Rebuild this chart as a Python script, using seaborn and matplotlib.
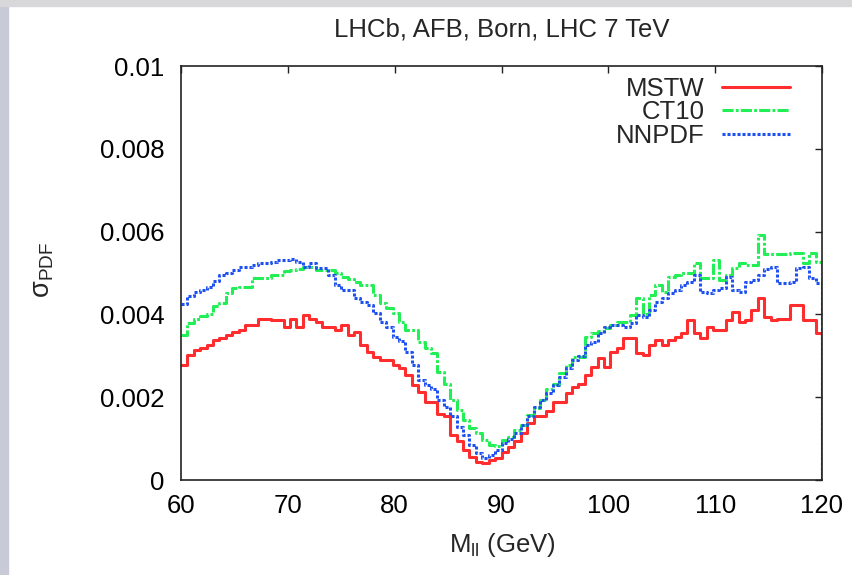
import numpy as np
import pandas as pd
import matplotlib
matplotlib.use("Agg")
import matplotlib.pyplot as plt
from matplotlib.patches import Rectangle
import seaborn as sns

# sigma_PDF per 0.6 GeV bin, 60..120 GeV, in units of 1e-3
mstw = [2.78, 3.02, 3.14, 3.18, 3.26, 3.38, 3.42, 3.50, 3.58, 3.62,
        3.74, 3.74, 3.89, 3.89, 3.86, 3.86, 3.70, 3.90, 3.70, 3.98,
        3.88, 3.82, 3.70, 3.70, 3.62, 3.74, 3.50, 3.58, 3.26, 3.10,
        2.98, 2.90, 2.90, 2.78, 2.70, 2.54, 2.30, 2.12, 1.89, 1.89,
        1.60, 1.54, 1.09, 0.93, 0.72, 0.56, 0.44, 0.40, 0.48, 0.52,
        0.68, 0.80, 0.93, 1.13, 1.37, 1.54, 1.54, 1.66, 1.89, 1.89,
        2.10, 2.25, 2.33, 2.54, 2.74, 2.94, 2.74, 3.10, 3.18, 3.42,
        3.42, 3.06, 3.02, 3.26, 3.38, 3.26, 3.38, 3.46, 3.54, 3.86,
        3.54, 3.42, 3.70, 3.62, 3.62, 3.86, 4.07, 3.82, 3.86, 4.10,
        4.39, 3.94, 3.86, 3.90, 3.90, 4.23, 4.23, 3.86, 3.86, 3.54]
ct10 = [3.50, 3.80, 3.90, 3.96, 4.02, 4.20, 4.28, 4.51, 4.63, 4.67,
        4.67, 4.87, 4.87, 4.87, 4.96, 4.96, 5.05, 5.07, 5.10, 5.15,
        5.15, 5.07, 5.07, 5.07, 4.99, 4.91, 4.85, 4.79, 4.71, 4.71,
        4.47, 4.27, 4.15, 4.03, 3.82, 3.62, 3.62, 3.34, 3.20, 3.06,
        2.60, 2.33, 1.93, 1.69, 1.45, 1.25, 1.13, 0.97, 0.85, 0.82,
        0.97, 1.05, 1.21, 1.33, 1.57, 1.73, 1.93, 2.21, 2.33, 2.58,
        2.78, 2.98, 2.98, 3.46, 3.54, 3.60, 3.66, 3.74, 3.82, 3.82,
        3.98, 4.39, 4.02, 4.47, 4.71, 4.55, 4.91, 4.95, 5.00, 5.00,
        5.23, 4.87, 4.87, 5.31, 4.83, 4.95, 5.11, 5.23, 5.19, 5.19,
        5.92, 5.46, 5.46, 5.46, 5.46, 5.48, 5.48, 5.23, 5.48, 5.27]
nnpdf = [4.25, 4.45, 4.55, 4.59, 4.67, 4.80, 4.95, 5.00, 5.07, 5.15,
         5.15, 5.19, 5.23, 5.23, 5.27, 5.31, 5.31, 5.35, 5.27, 5.15,
         5.23, 5.11, 5.11, 4.95, 4.70, 4.59, 4.59, 4.39, 4.31, 4.23,
         4.03, 3.82, 3.70, 3.46, 3.35, 3.10, 2.78, 2.42, 2.30, 2.20,
         1.93, 1.77, 1.54, 1.29, 1.09, 0.85, 0.66, 0.52, 0.60, 0.72,
         0.90, 1.00, 1.13, 1.33, 1.54, 1.77, 1.93, 2.09, 2.30, 2.50,
         2.70, 2.90, 3.00, 3.26, 3.34, 3.55, 3.70, 3.74, 3.74, 3.70,
         3.80, 3.98, 3.94, 4.10, 4.30, 4.40, 4.51, 4.59, 4.71, 4.79,
         4.95, 4.55, 4.51, 4.59, 4.63, 4.91, 4.59, 4.55, 4.79, 4.83,
         4.95, 5.10, 5.15, 4.75, 4.75, 4.78, 5.11, 5.15, 4.87, 4.75]

series_names = ["MSTW", "CT10", "NNPDF"]
series_colors = ["#ff2d2d", "#22ee55", "#1f50f0"]
series_styles = ["-", (0, (8, 1.6, 2, 1.6)), (0, (2.2, 1.4))]

x_ticks = [60, 70, 80, 90, 100, 110, 120]
y_ticks = [0, 0.002, 0.004, 0.006, 0.008, 0.01]
y_tick_labels = ["0", "0.002", "0.004", "0.006", "0.008", "0.01"]

edges = np.linspace(60, 120, len(mstw) + 1)

sns.set_style("white")
plt.rcParams["font.family"] = ["Liberation Sans", "DejaVu Sans"]
plt.rcParams["mathtext.fontset"] = "custom"
plt.rcParams["mathtext.rm"] = "Liberation Sans"
plt.rcParams["mathtext.it"] = "Liberation Sans:italic"
plt.rcParams["lines.scale_dashes"] = False

fig = plt.figure(figsize=(8.52, 5.75), dpi=100)
fig.patches.append(Rectangle((0, 0), 8 / 852, 1, transform=fig.transFigure,
                             color="#c9cad8", zorder=0))
fig.patches.append(Rectangle((0, 1 - 6 / 575), 1, 6 / 575, transform=fig.transFigure,
                             color="#d8d8da", zorder=0))
ax = fig.add_axes([181 / 852, 95 / 575, 641 / 852, 414 / 575])

for name, vals, color, style in zip(series_names, [mstw, ct10, nnpdf],
                                    series_colors, series_styles):
    df = pd.DataFrame({"m": edges, "sigma": np.append(np.array(vals) * 1e-3, 0.0)})
    sns.lineplot(data=df, x="m", y="sigma", ax=ax, color=color, linestyle=style,
                 linewidth=2.2, drawstyle="steps-post", label=name,
                 estimator=None, sort=False)

ax.set_xlim(60, 120)
ax.set_ylim(0, 0.01)
ax.set_xticks(x_ticks)
ax.set_xticklabels([str(t) for t in x_ticks])
ax.set_yticks(y_ticks)
ax.set_yticklabels(y_tick_labels)
ax.tick_params(direction="in", length=5, width=1, top=True, right=True,
               labelsize=18.5, colors="#222222", labelcolor="black")
ax.tick_params(axis="y", pad=12)
ax.tick_params(axis="x", pad=10)
for s in ax.spines.values():
    s.set_linewidth(1.2)
    s.set_color("#222222")

ax.set_title("LHCb, AFB, Born, LHC 7 TeV", fontsize=18.5, pad=21)
ax.set_xlabel(r"M$_{\mathrm{ll}}$ (GeV)", fontsize=18.5)
ax.set_ylabel(r"$\mathrm{\sigma_{PDF}}$", fontsize=19.5)
ax.xaxis.set_label_coords(0.502, -0.122)
ax.yaxis.set_label_coords(-0.195, 0.507)

ax.legend(loc="upper right", bbox_to_anchor=(0.95, 0.974), frameon=False,
          markerfirst=False, fontsize=18.5, handlelength=2.65,
          handletextpad=0.66, labelspacing=-0.02, borderpad=0, borderaxespad=0)

fig.savefig("out.png", dpi=100)
